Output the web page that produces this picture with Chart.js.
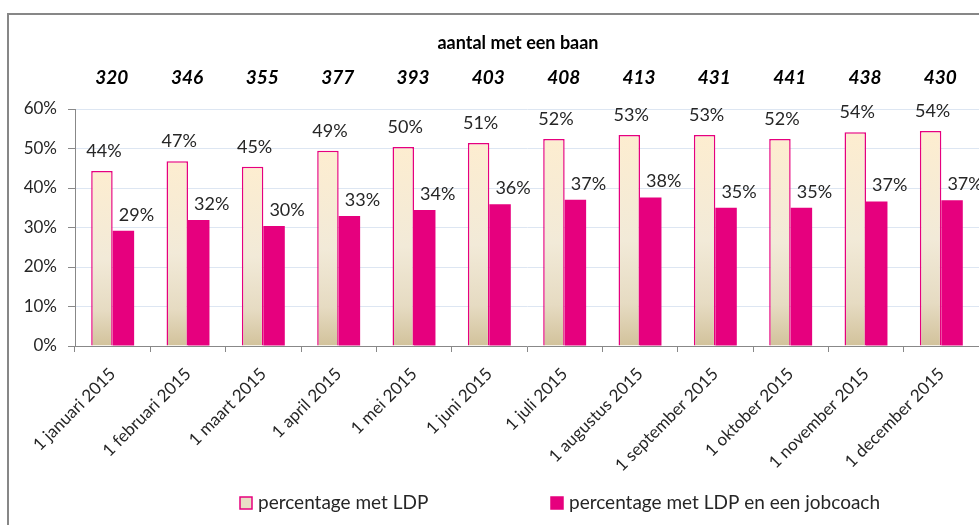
<!DOCTYPE html>
<html>
<head>
<meta charset="utf-8">
<script src="https://cdn.jsdelivr.net/npm/chart.js@4.4.0/dist/chart.umd.min.js"></script>
<style>
  html, body { margin: 0; padding: 0; background: #fff; }
  #wrap { width: 979px; height: 525px; position: relative; }
</style>
</head>
<body>
<div id="wrap"><canvas id="chart"></canvas></div>
<script>
// data
const maanden = ['1 januari 2015', '1 februari 2015', '1 maart 2015', '1 april 2015', '1 mei 2015', '1 juni 2015',
  '1 juli 2015', '1 augustus 2015', '1 september 2015', '1 oktober 2015', '1 november 2015', '1 december 2015'];
const aantalMetBaan = [320, 346, 355, 377, 393, 403, 408, 413, 431, 441, 438, 430];
const pctLDP = [44.3, 46.8, 45.4, 49.4, 50.4, 51.4, 52.4, 53.4, 53.4, 52.4, 54.1, 54.4];
const pctJobcoach = [29.2, 31.9, 30.4, 32.9, 34.4, 35.9, 37.0, 37.6, 35.0, 35.0, 36.6, 36.9];
const titel = 'aantal met een baan';

const FONT = 'Lato, "Open Sans", sans-serif';
const MAGENTA = '#e6007e';

// gradient per bar, cream on top to tan at the bottom
function ldpFill(ctx) {
  const chart = ctx.chart;
  if (!chart.chartArea || ctx.type !== 'data') return '#f3e8d2';
  const y = chart.scales.y;
  const top = y.getPixelForValue(ctx.raw);
  const bottom = y.getPixelForValue(0);
  const g = chart.ctx.createLinearGradient(0, top, 0, bottom);
  g.addColorStop(0, '#fdedd0');
  g.addColorStop(0.5, '#f2ead8');
  g.addColorStop(0.8, '#e6dbc2');
  g.addColorStop(1, '#d2c29b');
  return g;
}

const extras = {
  id: 'extras',
  beforeDraw(chart) {
    const c = chart.ctx;
    c.save();
    c.strokeStyle = '#878787';
    c.lineWidth = 2;
    c.strokeRect(8, 14, 1100, 600);
    c.restore();
  },
  afterDatasetsDraw(chart) {
    const c = chart.ctx;
    const x = chart.scales.x;
    c.save();
    // title and numbers row
    c.fillStyle = '#000';
    c.textAlign = 'center';
    c.textBaseline = 'middle';
    c.font = 'bold 18px ' + FONT;
    c.fillText(titel, 518, 43);
    c.font = 'italic bold 19px ' + FONT;
    aantalMetBaan.forEach((v, i) => {
      c.fillText(String(v), x.getPixelForValue(i) - 1, 78);
    });
    // data labels
    c.font = '18px ' + FONT;
    c.fillStyle = '#262626';
    c.textBaseline = 'alphabetic';
    chart.data.datasets.forEach((ds, di) => {
      const meta = chart.getDatasetMeta(di);
      const dx = di === 0 ? 2 : 13;
      const gap = di === 0 ? 14 : 10;
      meta.data.forEach((bar, i) => {
        c.fillText(Math.round(ds.data[i]) + '%', bar.x + dx, bar.y - gap);
      });
    });
    // legend
    const items = [
      { x: 240, fill: '#e9dfc6', label: chart.data.datasets[0].label },
      { x: 551, fill: MAGENTA, label: chart.data.datasets[1].label }
    ];
    c.font = '19px ' + FONT;
    c.textAlign = 'left';
    c.textBaseline = 'middle';
    items.forEach(it => {
      c.fillStyle = it.fill;
      c.fillRect(it.x, 497, 12, 12);
      c.strokeStyle = MAGENTA;
      c.lineWidth = 1.5;
      c.strokeRect(it.x, 497, 12, 12);
      c.fillStyle = '#262626';
      c.fillText(it.label, it.x + 18, 503);
    });
    c.restore();
  }
};

new Chart(document.getElementById('chart'), {
  type: 'bar',
  data: {
    labels: maanden,
    datasets: [{
      label: 'percentage met LDP',
      data: pctLDP,
      backgroundColor: ldpFill,
      borderColor: MAGENTA,
      borderWidth: 1.5,
      categoryPercentage: 0.57,
      barPercentage: 1
    }, {
      label: 'percentage met LDP en een jobcoach',
      data: pctJobcoach,
      backgroundColor: MAGENTA,
      borderWidth: 0,
      categoryPercentage: 0.57,
      barPercentage: 1
    }]
  },
  options: {
    responsive: true,
    maintainAspectRatio: false,
    animation: false,
    layout: { padding: { top: 109, left: 0, right: 0, bottom: 0 } },
    plugins: {
      legend: { display: false },
      tooltip: { enabled: false }
    },
    scales: {
      x: {
        grid: { display: true, drawOnChartArea: false, tickLength: 6, tickColor: '#888', offset: true },
        border: { color: '#888', width: 1 },
        ticks: {
          color: '#262626',
          font: { family: FONT, size: 17 },
          maxRotation: 45,
          minRotation: 45,
          padding: 12,
          autoSkip: false
        },
        afterFit(scale) { scale.height = 179; }
      },
      y: {
        min: 0,
        max: 60,
        grid: { color: '#dde6f2', tickLength: 7, tickColor: '#888' },
        border: { color: '#888', width: 1 },
        ticks: {
          stepSize: 10,
          color: '#262626',
          font: { family: FONT, size: 17 },
          padding: 11,
          callback: v => v + '%'
        },
        afterFit(scale) { scale.width = 75; }
      }
    }
  },
  plugins: [extras]
});
</script>
</body>
</html>
